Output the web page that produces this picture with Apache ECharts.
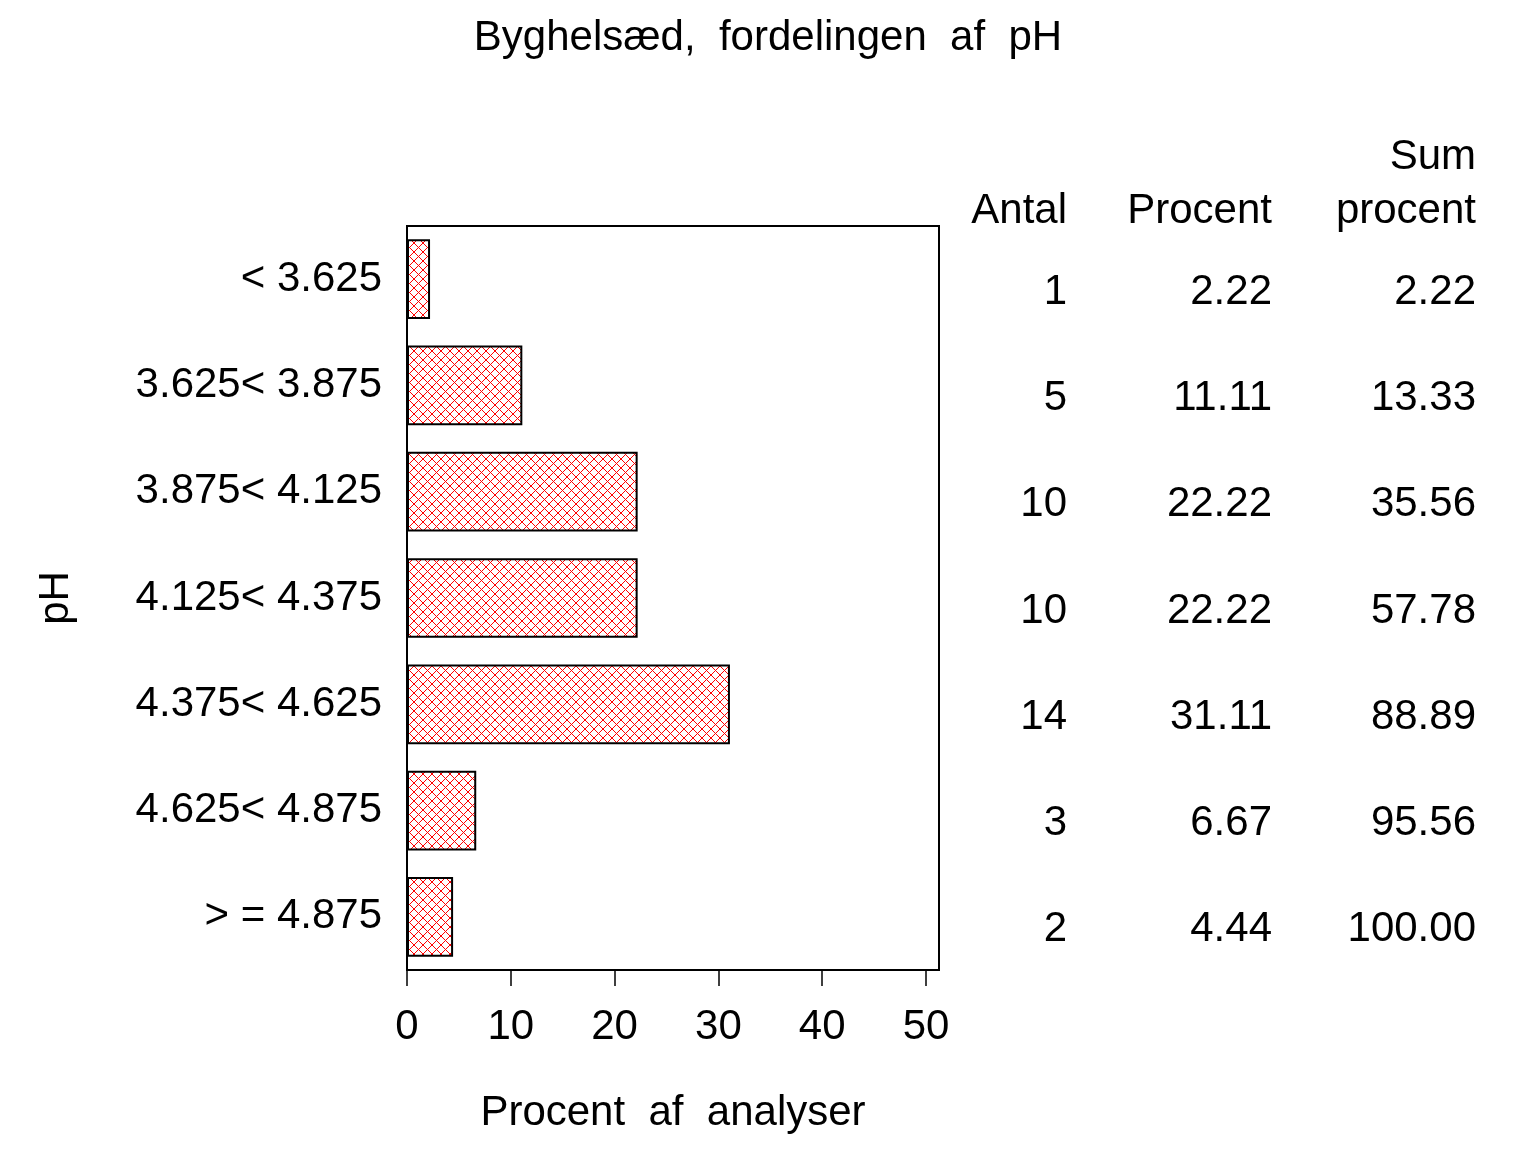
<!DOCTYPE html>
<html>
<head>
<meta charset="utf-8">
<script src="https://cdn.jsdelivr.net/npm/echarts@6/dist/echarts.min.js"></script>
<style>
  html, body { margin: 0; padding: 0; background: #fff; }
  #main { width: 1536px; height: 1152px; }
</style>
</head>
<body>
<div id="main"></div>
<script>
var categories = ['< 3.625', '3.625< 3.875', '3.875< 4.125', '4.125< 4.375', '4.375< 4.625', '4.625< 4.875', '> = 4.875'];
var antal = [1, 5, 10, 10, 14, 3, 2];
var procent = [2.22, 11.11, 22.22, 22.22, 31.11, 6.67, 4.44];
var sumProcent = [2.22, 13.33, 35.56, 57.78, 88.89, 95.56, 100.00];
var xTicks = [0, 10, 20, 30, 40, 50];

var FONT = "'Liberation Sans', Arial, sans-serif";

// red cross hatch on white
var hatch = document.createElement('canvas');
hatch.width = 9;
hatch.height = 9;
var hc = hatch.getContext('2d');
hc.fillStyle = '#fff';
hc.fillRect(0, 0, 9, 9);
hc.strokeStyle = '#ff0000';
hc.lineWidth = 1;
hc.beginPath();
hc.moveTo(0, 0); hc.lineTo(9, 9);
hc.moveTo(9, 0); hc.lineTo(0, 9);
hc.stroke();

var chart = echarts.init(document.getElementById('main'));

// the table columns sit a little below the bar centres
function tableAxis(values, margin) {
    return {
        type: 'category',
        data: values,
        inverse: true,
        position: 'right',
        offset: 0,
        axisLine: { show: false },
        axisTick: { show: false },
        splitLine: { show: false },
        axisLabel: {
            margin: margin,
            align: 'right',
            verticalAlign: 'top',
            lineHeight: 26,
            color: '#000',
            fontSize: 42,
            fontFamily: FONT
        }
    };
}

function header(text, x, y) {
    return {
        type: 'text',
        x: x,
        y: y,
        style: {
            text: text,
            align: 'right',
            verticalAlign: 'middle',
            fill: '#000',
            font: '42px ' + FONT
        }
    };
}

var option = {
    backgroundColor: '#fff',
    animation: false,
    title: {
        text: 'Byghelsæd,  fordelingen  af  pH',
        left: 'center',
        top: 12,
        textStyle: { color: '#000', fontSize: 42, fontWeight: 'normal', fontFamily: FONT }
    },
    grid: {
        left: 407,
        right: 597,
        top: 226,
        bottom: 182,
        show: true,
        borderColor: '#000',
        borderWidth: 2,
        backgroundColor: 'transparent',
        containLabel: false,
        outerBoundsMode: 'none'
    },
    xAxis: {
        type: 'value',
        min: 0,
        max: 51.25,
        name: 'Procent  af  analyser',
        nameLocation: 'middle',
        nameGap: 122,
        nameTextStyle: { color: '#000', fontSize: 42, fontFamily: FONT },
        axisLine: { show: true, lineStyle: { color: '#000', width: 2 } },
        axisTick: { show: true, length: 16, customValues: xTicks, lineStyle: { color: '#000', width: 1.5 } },
        splitLine: { show: false },
        axisLabel: {
            customValues: xTicks,
            margin: 36,
            color: '#000',
            fontSize: 42,
            fontFamily: FONT
        }
    },
    yAxis: [
        {
            type: 'category',
            data: categories,
            inverse: true,
            name: 'pH',
            nameLocation: 'middle',
            nameGap: 330,
            nameTextStyle: { color: '#000', fontSize: 42, fontFamily: FONT },
            axisLine: { show: true, lineStyle: { color: '#000', width: 2 } },
            axisTick: { show: false },
            splitLine: { show: false },
            axisLabel: {
                margin: 25,
                color: '#000',
                fontSize: 42,
                fontFamily: FONT
            }
        },
        tableAxis(antal.map(String), 128),
        tableAxis(procent.map(function (v) { return v.toFixed(2); }), 333),
        tableAxis(sumProcent.map(function (v) { return v.toFixed(2); }), 537)
    ],
    graphic: [
        header('Antal', 1067, 211),
        header('Procent', 1272, 211),
        header('Sum', 1476, 157),
        header('procent', 1476, 211)
    ],
    series: [{
        type: 'bar',
        data: procent,
        barWidth: '75%',
        itemStyle: {
            color: { image: hatch, repeat: 'repeat' },
            borderColor: '#000',
            borderWidth: 2
        }
    }]
};

chart.setOption(option);
</script>
</body>
</html>
